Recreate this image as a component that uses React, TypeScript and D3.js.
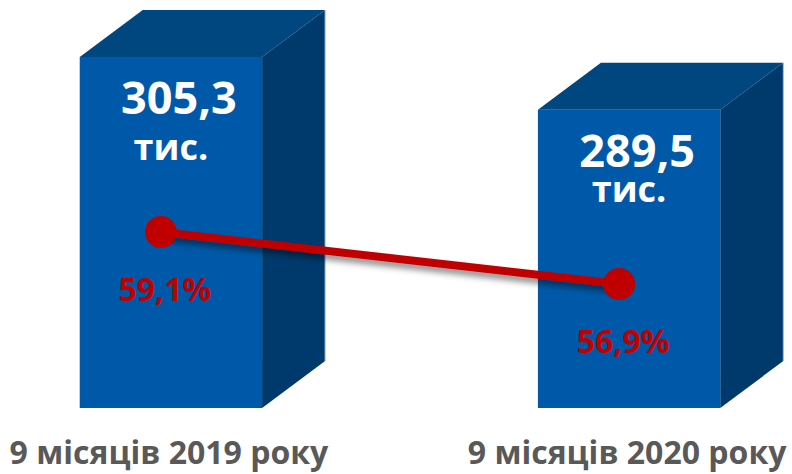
import React from "react";
import * as d3 from "d3";

// values
const periods = ["9 місяців 2019 року", "9 місяців 2020 року"];
const counts = [305.3, 289.5]; // тис.
const countLabels = ["305,3", "289,5"];
const shares = [59.1, 56.9]; // %
const shareLabels = ["59,1%", "56,9%"];
const unitLabel = "тис.";

const W = 792;
const H = 474;
const DEPTH_X = 63;
const DEPTH_Y = 47;
const BASE_Y = 408;

// small manual nudges for the "тис." labels (as placed on the slide)
const unitDy = [103, 92];

const FRONT = "#0059a8";
const TOP = "#00467f";
const SIDE = "#003a6c";
const RED = "#c00000";
const GREY = "#595959";
const FONT = "'Open Sans', 'DejaVu Sans', sans-serif";

export default function App() {
  const x = d3.scaleBand().domain(periods).range([11, 789]).paddingInner(0.602).paddingOuter(0.15);
  // bar axis does not start at zero in the original
  const y = d3.scaleLinear().domain([200, 320]).range([BASE_Y, 8]);
  // secondary axis for the share line
  const y2 = d3.scaleLinear().domain([55, 60]).range([328.8, 210.8]);

  const bw = x.bandwidth();
  const pts: [number, number][] = periods.map((p, i) => [x(p)! + bw / 2 - 10, y2(shares[i])]);
  const line = d3.line();

  return (
    <svg width={W} height={H} style={{ position: "absolute", left: 0, top: 0 }} fontFamily={FONT}>
      <defs>
        <filter id="sh" x="-10%" y="-50%" width="120%" height="300%">
          <feDropShadow dx="2" dy="5" stdDeviation="3" floodColor="#000" floodOpacity="0.45" />
        </filter>
      </defs>
      {periods.map((p, i) => {
        const x0 = x(p)!;
        const x1 = x0 + bw;
        const yt = y(counts[i]);
        const top = d3.path();
        top.moveTo(x0, yt);
        top.lineTo(x0 + DEPTH_X, yt - DEPTH_Y);
        top.lineTo(x1 + DEPTH_X, yt - DEPTH_Y);
        top.lineTo(x1, yt);
        top.closePath();
        const side = d3.path();
        side.moveTo(x1, yt);
        side.lineTo(x1 + DEPTH_X, yt - DEPTH_Y);
        side.lineTo(x1 + DEPTH_X, BASE_Y - DEPTH_Y);
        side.lineTo(x1, BASE_Y);
        side.closePath();
        return (
          <g key={p}>
            <path d={top.toString()} fill={TOP} />
            <path d={side.toString()} fill={SIDE} />
            <line x1={x1 + DEPTH_X} x2={x1 + DEPTH_X} y1={yt - DEPTH_Y} y2={BASE_Y - DEPTH_Y} stroke="#9db8d6" strokeWidth={1} />
            <rect x={x0} y={yt} width={bw} height={BASE_Y - yt} fill={FRONT} />
            <text x={x0 + bw / 2 + 8} y={yt + 57} textAnchor="middle" fill="#fff" fontWeight="bold" fontSize={45}>
              {countLabels[i]}
            </text>
            <text x={x0 + bw / 2} y={yt + unitDy[i]} textAnchor="middle" fill="#fff" fontWeight="bold" fontSize={36}>
              {unitLabel}
            </text>
            <text x={x0 + bw / 2 - 2} y={464} textAnchor="middle" fill={GREY} fontWeight="bold" fontSize={32}>
              {p}
            </text>
          </g>
        );
      })}
      <path d={line(pts)!} stroke={RED} strokeWidth={8} fill="none" filter="url(#sh)" />
      {pts.map((pt, i) => (
        <g key={i}>
          <circle cx={pt[0]} cy={pt[1]} r={16} fill={RED} />
          <text x={pt[0] + 4} y={pt[1] + 69} textAnchor="middle" fill={RED} fontWeight="bold" fontSize={32}>
            {shareLabels[i]}
          </text>
        </g>
      ))}
    </svg>
  );
}
